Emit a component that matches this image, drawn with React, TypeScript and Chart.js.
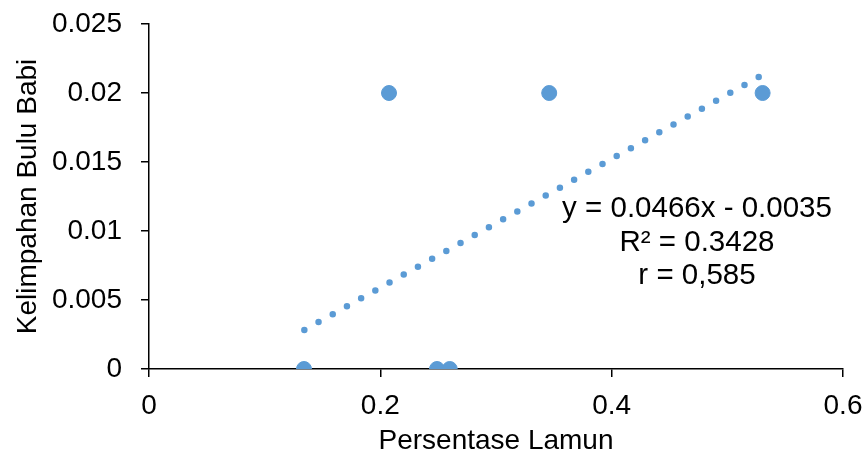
import React, { useEffect, useRef } from "react";
import { Chart, registerables } from "chart.js";

Chart.register(...registerables);

const pointsX = [0.134, 0.2075, 0.249, 0.26, 0.346, 0.5305];
const pointsY = [0, 0.02, 0, 0, 0.02, 0.02];
const trendX = [0.1343, 0.5276];
const trendY = [0.00283, 0.02118];
const xTickLabels = ["0", "0.2", "0.4", "0.6"];
const yTickLabels = ["0", "0.005", "0.01", "0.015", "0.02", "0.025"];
const equationLines = ["y = 0.0466x - 0.0035", "R² = 0.3428", "r = 0,585"];
const xTitle = "Persentase Lamun";
const yTitle = "Kelimpahan Bulu Babi";

const BLUE = "#5B9BD5";
const FONT = "'Liberation Sans', Arial, sans-serif";

export default function App() {
  const ref = useRef<HTMLCanvasElement>(null);
  useEffect(() => {
    document.body.style.margin = "0";
    const ctx = ref.current!.getContext("2d")!;
    const textPlugin = {
      id: "eqText",
      afterDraw(chart: any) {
        const c = chart.ctx;
        c.save();
        c.fillStyle = "#000";
        c.font = `29.5px ${FONT}`;
        c.textAlign = "center";
        c.textBaseline = "middle";
        const cx = 697;
        const ys = [209, 243, 276];
        equationLines.forEach((t, i) => c.fillText(t, cx, ys[i]));
        c.restore();
      },
    };
    const zeroPad = (s: any) => {
      s.paddingLeft = 0;
      s.paddingRight = 0;
      s.paddingTop = 0;
      s.paddingBottom = 0;
    };
    const chart = new Chart(ctx, {
      type: "scatter",
      data: {
        datasets: [
          {
            type: "line",
            data: trendX.map((x, i) => ({ x, y: trendY[i] })),
            borderColor: BLUE,
            borderWidth: 6.5,
            borderDash: [0, 16.25],
            borderCapStyle: "round",
            pointRadius: 0,
            fill: false,
          } as any,
          {
            data: pointsX.map((x, i) => ({ x, y: pointsY[i] })),
            backgroundColor: BLUE,
            borderColor: BLUE,
            pointRadius: 7.5,
            pointHoverRadius: 7.5,
          },
        ],
      },
      options: {
        responsive: false,
        animation: false,
        layout: { padding: { top: 24, right: 21, left: 0, bottom: 0 } },
        plugins: { legend: { display: false }, tooltip: { enabled: false } },
        scales: {
          x: {
            type: "linear",
            min: 0,
            max: 0.6,
            afterBuildTicks: (s: any) => {
              s.ticks = xTickLabels.map((_, i) => ({ value: i * 0.2 }));
            },
            ticks: {
              callback: (_v: any, i: number) => xTickLabels[i],
              color: "#000",
              font: { family: FONT, size: 28 },
              padding: 12,
              maxRotation: 0,
            },
            grid: {
              drawOnChartArea: false,
              drawTicks: true,
              tickLength: 8,
              color: "#000",
              lineWidth: 1.5,
            },
            border: { display: true, color: "#000", width: 1.5 },
            title: {
              display: true,
              text: xTitle,
              color: "#000",
              font: { family: FONT, size: 28 },
              padding: { top: 4, bottom: 1 },
            },
            afterFit: (s: any) => {
              s.height = 90;
              zeroPad(s);
            },
          },
          y: {
            type: "linear",
            min: 0,
            max: 0.025,
            afterBuildTicks: (s: any) => {
              s.ticks = yTickLabels.map((_, i) => ({ value: i * 0.005 }));
            },
            ticks: {
              callback: (_v: any, i: number) => yTickLabels[i],
              color: "#000",
              font: { family: FONT, size: 28 },
              padding: 19,
            },
            grid: {
              drawOnChartArea: false,
              drawTicks: true,
              tickLength: 8,
              color: "#000",
              lineWidth: 1.5,
            },
            border: { display: true, color: "#000", width: 1.5 },
            title: {
              display: true,
              text: yTitle,
              color: "#000",
              font: { family: FONT, size: 28 },
              padding: { top: 11, bottom: 0 },
            },
            afterFit: (s: any) => {
              s.width = 149;
              zeroPad(s);
            },
          },
        },
      },
      plugins: [textPlugin],
    });
    return () => chart.destroy();
  }, []);
  return (
    <div style={{ width: 864, height: 459 }}>
      <canvas ref={ref} width={864} height={459} style={{ display: "block" }} />
    </div>
  );
}
